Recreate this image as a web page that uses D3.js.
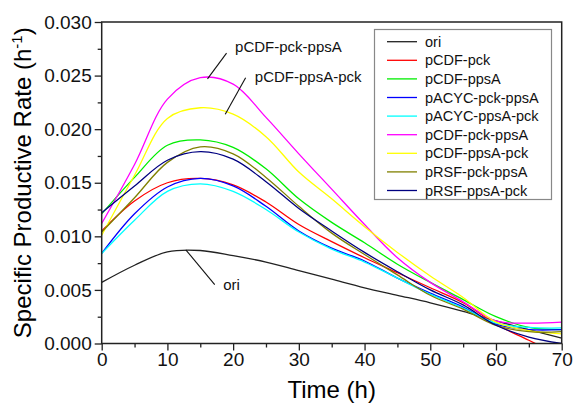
<!DOCTYPE html>
<html>
<head>
<meta charset="utf-8">
<script src="https://cdn.jsdelivr.net/npm/d3@7"></script>
<style>
	body { margin: 0; background: #fff; }
	svg { font-family: "Liberation Sans", Arial, sans-serif; }
	.frame { fill: none; stroke: #222; stroke-width: 1.5; }
	.axis path { display: none; }
	.axis line { stroke: #222; stroke-width: 1.3; }
	.axis text { font-size: 19px; fill: #111; }
	.curve { fill: none; stroke-width: 1.3; }
	.note { font-size: 15px; fill: #111; }
	.leader { stroke: #111; stroke-width: 1.1; }
	.legend text { font-size: 14.5px; fill: #111; }
</style>
</head>
<body>
<svg id="chart" width="574" height="405"></svg>
<script>
// values
var times = [0, 5, 10, 15, 20, 25, 30, 35, 40, 45, 50, 55, 60, 65, 70];

var series_names = ["ori", "pCDF-pck", "pCDF-ppsA", "pACYC-pck-ppsA", "pACYC-ppsA-pck",
	"pCDF-pck-ppsA", "pCDF-ppsA-pck", "pRSF-pck-ppsA", "pRSF-ppsA-pck"];

var series_colors = ["#222222", "#ff0000", "#00ee00", "#0000ff", "#00ffff",
	"#ff00ff", "#ffff00", "#808000", "#000080"];

var ori_vals    = [0.0057, 0.0073, 0.00855, 0.00868, 0.0082, 0.0076, 0.0068, 0.0060, 0.0052, 0.0045, 0.0038, 0.0030, 0.0021, 0.0013, 0.0005];
var pck_vals    = [0.0105, 0.0133, 0.0150, 0.0154, 0.0148, 0.0132, 0.0111, 0.0095, 0.0080, 0.0066, 0.0052, 0.0038, 0.0018, 0.0003, -0.0012];
var ppsA_vals   = [0.0121, 0.0155, 0.0185, 0.0190, 0.0183, 0.0163, 0.0135, 0.0113, 0.0094, 0.0074, 0.0057, 0.0041, 0.0025, 0.0015, 0.0013];
var acyc1_vals  = [0.0084, 0.0121, 0.0146, 0.0154, 0.0147, 0.0128, 0.0105, 0.0089, 0.0077, 0.0061, 0.0047, 0.0034, 0.0018, 0.0013, 0.0013];
var acyc2_vals  = [0.0084, 0.0115, 0.0142, 0.0149, 0.0142, 0.0125, 0.0104, 0.0088, 0.0076, 0.0061, 0.0046, 0.0033, 0.0019, 0.0015, 0.00145];
var cdf1_vals   = [0.0112, 0.0167, 0.0228, 0.0248, 0.0242, 0.0211, 0.0177, 0.0144, 0.0111, 0.0080, 0.0057, 0.0039, 0.0021, 0.0019, 0.0020];
var cdf2_vals   = [0.0101, 0.0157, 0.0210, 0.0220, 0.0214, 0.0193, 0.0160, 0.0135, 0.0109, 0.0085, 0.0063, 0.0043, 0.0020, 0.0012, 0.0009];
var rsf1_vals   = [0.0104, 0.0136, 0.0169, 0.01835, 0.0177, 0.0155, 0.0128, 0.0103, 0.0083, 0.0064, 0.0045, 0.0032, 0.0017, 0.0011, 0.0011];
var rsf2_vals   = [0.0122, 0.0147, 0.0171, 0.0179, 0.0172, 0.0151, 0.0126, 0.0105, 0.0085, 0.0067, 0.0050, 0.0036, 0.0017, 0.0006, 0.0000];

var series_vals = [ori_vals, pck_vals, ppsA_vals, acyc1_vals, acyc2_vals, cdf1_vals, cdf2_vals, rsf1_vals, rsf2_vals];

var x_ticks = [0, 10, 20, 30, 40, 50, 60, 70];
var y_ticks = [0, 0.005, 0.010, 0.015, 0.020, 0.025, 0.030];

// callouts: [label, label t, label v, leader start t, v, leader end t, v]
var notes = [
	["pCDF-pck-ppsA", 20.3, 0.0272, 19.0, 0.0271, 16.1, 0.0247],
	["pCDF-ppsA-pck", 23.3, 0.02437, 21.9, 0.0248, 18.8, 0.0214],
	["ori", 18.5, 0.0050, 17.2, 0.0055, 12.8, 0.00874]
];

var svg = d3.select("#chart");

var x = d3.scaleLinear().domain([0, 70]).range([101.7, 561.7]),
	y = d3.scaleLinear().domain([0, 0.030]).range([343.5, 22]);

svg.append("clipPath")
	.attr("id", "plot_clip")
	.append("rect")
		.attr("x", x(0)).attr("y", y(0.030))
		.attr("width", x(70) - x(0)).attr("height", y(0) - y(0.030));

// minor ticks
svg.append("g")
	.attr("class", "axis")
	.attr("transform", "translate(0," + y(0) + ")")
	.call(d3.axisBottom(x).tickValues(d3.range(5, 70, 10)).tickSize(4).tickFormat(""));
svg.append("g")
	.attr("class", "axis")
	.attr("transform", "translate(" + x(0) + ",0)")
	.call(d3.axisLeft(y).tickValues(d3.range(0.0025, 0.030, 0.005)).tickSize(4).tickFormat(""));

// major ticks
svg.append("g")
	.attr("class", "axis")
	.attr("transform", "translate(0," + y(0) + ")")
	.call(d3.axisBottom(x).tickValues(x_ticks).tickSize(7).tickPadding(2));
svg.append("g")
	.attr("class", "axis")
	.attr("transform", "translate(" + x(0) + ",0)")
	.call(d3.axisLeft(y).tickValues(y_ticks).tickSize(7).tickPadding(3).tickFormat(d3.format(".3f")));

var line = d3.line()
	.x(function(d){ return x(d[0]); })
	.y(function(d){ return y(d[1]); })
	.curve(d3.curveCatmullRom.alpha(0.5));

var plot = svg.append("g").attr("clip-path", "url(#plot_clip)");
plot.selectAll(".curve")
	.data(series_vals)
	.enter()
	.append("path")
	.attr("class", "curve")
	.attr("stroke", function(d, i){ return series_colors[i]; })
	.attr("d", function(d){ return line(d3.zip(times, d)); });

svg.append("rect")
	.attr("class", "frame")
	.attr("x", x(0)).attr("y", y(0.030))
	.attr("width", x(70) - x(0)).attr("height", y(0) - y(0.030));

// callouts
svg.selectAll(".leader")
	.data(notes)
	.enter()
	.append("line")
	.attr("class", "leader")
	.attr("x1", function(d){ return x(d[3]); })
	.attr("y1", function(d){ return y(d[4]); })
	.attr("x2", function(d){ return x(d[5]); })
	.attr("y2", function(d){ return y(d[6]); });
svg.selectAll(".note")
	.data(notes)
	.enter()
	.append("text")
	.attr("class", "note")
	.attr("x", function(d){ return x(d[1]); })
	.attr("y", function(d){ return y(d[2]); })
	.text(function(d){ return d[0]; });

// legend
var legend = svg.append("g").attr("class", "legend");
legend.append("rect")
	.attr("x", 374.5).attr("y", 29.5)
	.attr("width", 177).attr("height", 170)
	.attr("fill", "#fff").attr("stroke", "#888").attr("stroke-width", 1.2);
var rows = legend.selectAll(".row")
	.data(series_names)
	.enter()
	.append("g")
	.attr("transform", function(d, i){ return "translate(0," + (41.7 + 18.6 * i) + ")"; });
rows.append("line")
	.attr("x1", 387).attr("x2", 417)
	.attr("stroke", function(d, i){ return series_colors[i]; })
	.attr("stroke-width", 1.3);
rows.append("text")
	.attr("x", 425).attr("dy", "0.35em")
	.text(function(d){ return d; });

// axis titles
svg.append("text")
	.attr("x", (x(0) + x(70)) / 2).attr("y", 398)
	.attr("text-anchor", "middle")
	.attr("font-size", "24px")
	.text("Time (h)");

var yt = svg.append("text")
	.attr("transform", "translate(31," + ((y(0) + y(0.030)) / 2) + ") rotate(-90)")
	.attr("text-anchor", "middle")
	.attr("font-size", "24px");
yt.append("tspan").text("Specific Productive Rate (h");
yt.append("tspan").attr("font-size", "15px").attr("dy", "-9").text("-1");
yt.append("tspan").attr("dy", "9").text(")");
</script>
</body>
</html>
